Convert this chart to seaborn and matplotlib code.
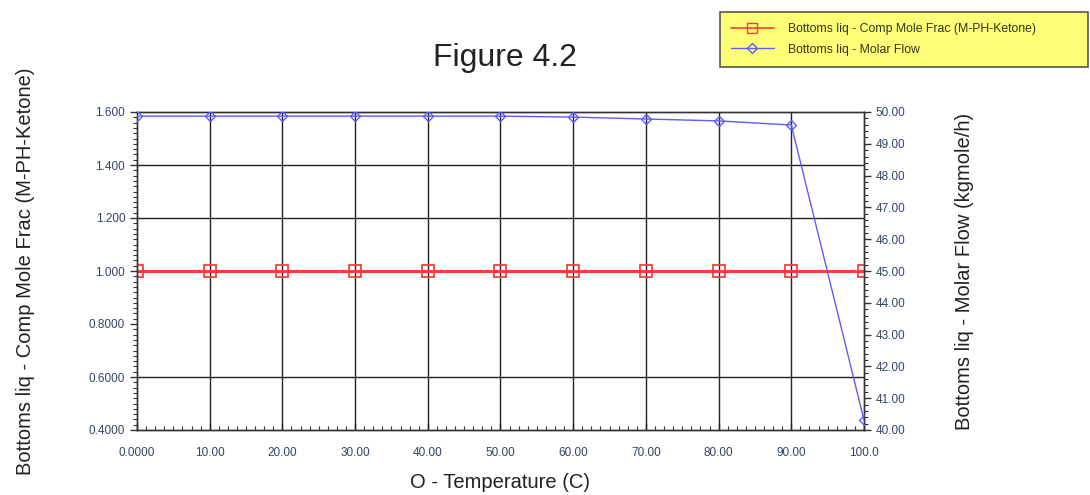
import numpy as np
import pandas as pd
import matplotlib
matplotlib.use("Agg")
import matplotlib.pyplot as plt
import seaborn as sns
from matplotlib.ticker import MultipleLocator
from matplotlib.lines import Line2D

temperature = [0, 10, 20, 30, 40, 50, 60, 70, 80, 90, 100]
mole_frac = [1.0, 1.0, 1.0, 1.0, 1.0, 1.0, 1.0, 1.0, 1.0, 1.0, 1.0]
molar_flow = [49.87, 49.87, 49.87, 49.87, 49.87, 49.87, 49.84, 49.78, 49.72, 49.59, 40.31]
x_ticklabels = ["0.0000", "10.00", "20.00", "30.00", "40.00", "50.00", "60.00", "70.00", "80.00", "90.00", "100.0"]
left_ticks = [0.4, 0.6, 0.8, 1.0, 1.2, 1.4, 1.6]
left_ticklabels = ["0.4000", "0.6000", "0.8000", "1.000", "1.200", "1.400", "1.600"]
right_ticks = [40, 41, 42, 43, 44, 45, 46, 47, 48, 49, 50]
right_ticklabels = ["%.2f" % v for v in right_ticks]

series1 = "Bottoms liq - Comp Mole Frac (M-PH-Ketone)"
series2 = "Bottoms liq - Molar Flow"

df = pd.DataFrame({"T": temperature, "frac": mole_frac, "flow": molar_flow})

sns.set_theme(style="white")
plt.rcParams['font.family'] = ['Liberation Sans', 'DejaVu Sans']

fig = plt.figure(figsize=(10.9, 4.95), dpi=100)
ax = fig.add_axes([137/1090, 1 - 430/495, (864-137)/1090, (430-112)/495])
ax2 = ax.twinx()

red = "#ff3b3b"
blue = "#5c5cff"
tick_col = "#334466"

sns.lineplot(data=df, x="T", y="frac", ax=ax, color=red, lw=2.2, marker="s",
             markersize=8, markerfacecolor="none", markeredgecolor=red, markeredgewidth=1.3,
             zorder=5, legend=False)
sns.lineplot(data=df, x="T", y="flow", ax=ax2, color=blue, lw=1.0, marker="D",
             markersize=5.5, markerfacecolor="none", markeredgecolor=blue, markeredgewidth=1.0,
             zorder=5, legend=False)

ax.set_xlim(0, 100)
ax.set_ylim(0.4, 1.6)
ax2.set_ylim(40, 50)

tfs = 8.5
ax.set_xticks(temperature)
ax.set_xticklabels(x_ticklabels, fontsize=tfs, color=tick_col)
ax.set_yticks(left_ticks)
ax.set_yticklabels(left_ticklabels, fontsize=tfs, color=tick_col)
ax2.set_yticks(right_ticks)
ax2.set_yticklabels(right_ticklabels, fontsize=tfs, color=tick_col)

ax.xaxis.set_minor_locator(MultipleLocator(1.25))
ax.yaxis.set_minor_locator(MultipleLocator(0.02))
ax2.yaxis.set_minor_locator(MultipleLocator(0.2))

for a in (ax, ax2):
    a.tick_params(which="major", length=5, width=1.0, color="#333333", direction="out")
    a.tick_params(which="minor", length=3, width=0.8, color="#333333", direction="out")
ax.tick_params(axis="x", which="both", bottom=True, direction="in", pad=12)
ax.tick_params(axis="y", which="both", left=True)
ax2.tick_params(axis="y", which="both", right=True)

for xv in temperature[1:-1]:
    ax.axvline(xv, color="#222222", lw=1.0, zorder=1)
for yv in [0.6, 1.0, 1.2, 1.4]:
    ax.axhline(yv, color="#222222", lw=1.0, zorder=1)

for a in (ax, ax2):
    for s in a.spines.values():
        s.set_color("#333333")
        s.set_linewidth(1.0)

lfs = 14.5
ax.set_xlabel("O - Temperature (C)", fontsize=lfs, color="#222222")
ax.set_ylabel("Bottoms liq - Comp Mole Frac (M-PH-Ketone)", fontsize=lfs, color="#222222")
ax2.set_ylabel("Bottoms liq - Molar Flow (kgmole/h)", fontsize=lfs, color="#222222")
ax.xaxis.set_label_coords(0.5, -0.135)
ax.yaxis.set_label_coords(-0.14, 0.5)
ax2.yaxis.set_label_coords(1.125, 0.5)

fig.text(505/1090, 1 - 58/495, "Figure 4.2", fontsize=23, ha="center", va="center", color="#222222")

handles = [
    Line2D([], [], color=red, lw=1.2, marker="s", markersize=7, markerfacecolor="none", markeredgecolor=red),
    Line2D([], [], color=blue, lw=1.0, marker="D", markersize=5, markerfacecolor="none", markeredgecolor=blue),
]
leg = fig.legend(handles, [series1, series2], loc="upper left",
                 bbox_to_anchor=(720/1090, 1 - 12/495, 368/1090, 0.0), mode="expand",
                 fontsize=8.8, frameon=True, fancybox=False, facecolor="#ffff77", edgecolor="#555555",
                 borderpad=0.9, handlelength=3.5, handletextpad=1.2, labelspacing=0.7, borderaxespad=0)
leg.get_frame().set_linewidth(1.2)
leg.get_frame().set_alpha(1)
for t in leg.get_texts():
    t.set_color("#333322")

fig.savefig("out.png", dpi=100)
